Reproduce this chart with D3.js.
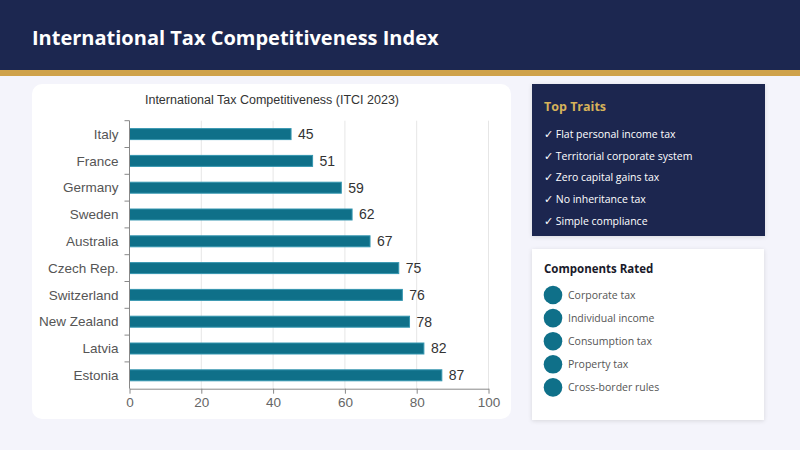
<!DOCTYPE html>
<html>
<head>
<meta charset="utf-8">
<script src="https://cdn.jsdelivr.net/npm/d3@7"></script>
<style>
  body { margin: 0; background: #f4f4fb; }
  svg { display: block; }
</style>
</head>
<body>
<div id="chart-area"></div>
<script>
// chart data
const countries = ["Italy", "France", "Germany", "Sweden", "Australia", "Czech Rep.", "Switzerland", "New Zealand", "Latvia", "Estonia"];
const scores = [45, 51, 59, 62, 67, 75, 76, 78, 82, 87];
const xTicks = [0, 20, 40, 60, 80, 100];
const traits = ["Flat personal income tax", "Territorial corporate system", "Zero capital gains tax", "No inheritance tax", "Simple compliance"];
const components = ["Corporate tax", "Individual income", "Consumption tax", "Property tax", "Cross-border rules"];

const W = 800, H = 450;
const navy = "#1c2750";
const gold = "#cfa24b";
const teal = "#0f7089";

const svg = d3.select("#chart-area").append("svg")
    .attr("width", W)
    .attr("height", H);

const defs = svg.append("defs");
const shadow = defs.append("filter").attr("id", "shadow")
    .attr("x", "-10%").attr("y", "-10%").attr("width", "120%").attr("height", "130%");
shadow.append("feDropShadow")
    .attr("dx", 0).attr("dy", 1).attr("stdDeviation", 2)
    .attr("flood-color", "#000").attr("flood-opacity", 0.12);

// page background + header
svg.append("rect").attr("width", W).attr("height", H).attr("fill", "#f4f4fb");
svg.append("rect").attr("width", W).attr("height", 70).attr("fill", navy);
svg.append("rect").attr("y", 70).attr("width", W).attr("height", 6).attr("fill", gold);
svg.append("text")
    .attr("x", 32).attr("y", 45)
    .attr("fill", "#fff")
    .attr("font-family", "'Open Sans', sans-serif")
    .attr("font-weight", 700)
    .attr("font-size", 20)
    .text("International Tax Competitiveness Index");

// chart card
svg.append("rect")
    .attr("x", 32).attr("y", 84).attr("width", 479).attr("height", 335)
    .attr("rx", 10).attr("fill", "#fff");

svg.append("text")
    .attr("x", 272).attr("y", 104)
    .attr("text-anchor", "middle")
    .attr("fill", "#333")
    .attr("font-family", "'Liberation Sans', Arial, sans-serif")
    .attr("font-size", 12.5)
    .text("International Tax Competitiveness (ITCI 2023)");

const margin = { top: 120.7, left: 129.5 };
const width = 488.5 - margin.left;
const height = 388.7 - margin.top;

const g = svg.append("g")
    .attr("transform", `translate(${margin.left}, ${margin.top})`);

const x = d3.scaleLinear().domain([0, 100]).range([0, width]);
const y = d3.scaleBand().domain(countries).range([0, height]).paddingInner(0.59).paddingOuter(0.295);

// grid
g.selectAll("line.grid").data(xTicks.slice(1)).enter()
    .append("line")
    .attr("class", "grid")
    .attr("x1", d => x(d)).attr("x2", d => x(d))
    .attr("y1", 0).attr("y2", height)
    .attr("stroke", "#e6e6e6");

// bars
g.selectAll("rect.bar").data(countries).enter()
    .append("rect")
    .attr("class", "bar")
    .attr("x", 0)
    .attr("y", d => y(d))
    .attr("width", (d, i) => x(scores[i]))
    .attr("height", y.bandwidth())
    .attr("fill", teal)
    .attr("stroke", "#3596b0")
    .attr("stroke-width", 1);

g.selectAll("text.val").data(countries).enter()
    .append("text")
    .attr("class", "val")
    .attr("x", (d, i) => x(scores[i]) + 7)
    .attr("y", d => y(d) + y.bandwidth() / 2)
    .attr("dy", "0.35em")
    .attr("fill", "#333")
    .attr("font-family", "'Liberation Sans', Arial, sans-serif")
    .attr("font-size", 14)
    .text((d, i) => scores[i]);

// axes
const xAxisCall = d3.axisBottom(x).tickValues(xTicks).tickSize(5).tickSizeOuter(0);
const xAxis = g.append("g")
    .attr("transform", `translate(0, ${height})`)
    .call(xAxisCall);
xAxis.select(".domain").attr("stroke", "#888");
xAxis.selectAll(".tick line").attr("stroke", "#888");
xAxis.selectAll("text")
    .attr("y", 9)
    .attr("fill", "#666")
    .attr("font-family", "'Liberation Sans', Arial, sans-serif")
    .attr("font-size", 13.5);

const yAxis = g.append("g");
yAxis.append("line")
    .attr("x1", 0).attr("x2", 0).attr("y1", 0).attr("y2", height)
    .attr("stroke", "#888");
const step = y.step();
yAxis.selectAll("line.tick").data(d3.range(countries.length)).enter()
    .append("line")
    .attr("class", "tick")
    .attr("x1", -5).attr("x2", 0)
    .attr("y1", i => i * step).attr("y2", i => i * step)
    .attr("stroke", "#888");
yAxis.selectAll("text").data(countries).enter()
    .append("text")
    .attr("x", -11)
    .attr("y", d => y(d) + y.bandwidth() / 2)
    .attr("dy", "0.35em")
    .attr("text-anchor", "end")
    .attr("fill", "#555")
    .attr("font-family", "'Liberation Sans', Arial, sans-serif")
    .attr("font-size", 13.5)
    .text(d => d);

// Top Traits panel
svg.append("rect")
    .attr("x", 532).attr("y", 84).attr("width", 233).attr("height", 152)
    .attr("fill", navy)
    .attr("filter", "url(#shadow)");
svg.append("text")
    .attr("x", 544).attr("y", 111)
    .attr("fill", "#d6b25a")
    .attr("font-family", "'Open Sans', sans-serif")
    .attr("font-weight", 700)
    .attr("font-size", 12.5)
    .text("Top Traits");
svg.selectAll("text.trait").data(traits).enter()
    .append("text")
    .attr("class", "trait")
    .attr("x", 544)
    .attr("y", (d, i) => 138 + i * 21.7)
    .attr("fill", "#fff")
    .attr("font-family", "'Open Sans', sans-serif")
    .attr("font-size", 10.5)
    .text(d => "\u2713  " + d);

// Components panel
svg.append("rect")
    .attr("x", 532).attr("y", 249).attr("width", 232).attr("height", 171)
    .attr("fill", "#fff")
    .attr("filter", "url(#shadow)");
svg.append("text")
    .attr("x", 544).attr("y", 273)
    .attr("fill", "#1a1a2a")
    .attr("font-family", "'Open Sans', sans-serif")
    .attr("font-weight", 700)
    .attr("font-size", 11.5)
    .text("Components Rated");
const comp = svg.selectAll("g.comp").data(components).enter()
    .append("g")
    .attr("class", "comp")
    .attr("transform", (d, i) => `translate(0, ${295 + i * 23.1})`);
comp.append("circle")
    .attr("cx", 553).attr("cy", 0).attr("r", 9.3)
    .attr("fill", teal);
comp.append("text")
    .attr("x", 568).attr("y", 0)
    .attr("dy", "0.35em")
    .attr("fill", "#555")
    .attr("font-family", "'Open Sans', sans-serif")
    .attr("font-size", 10.5)
    .text(d => d);
</script>
</body>
</html>
